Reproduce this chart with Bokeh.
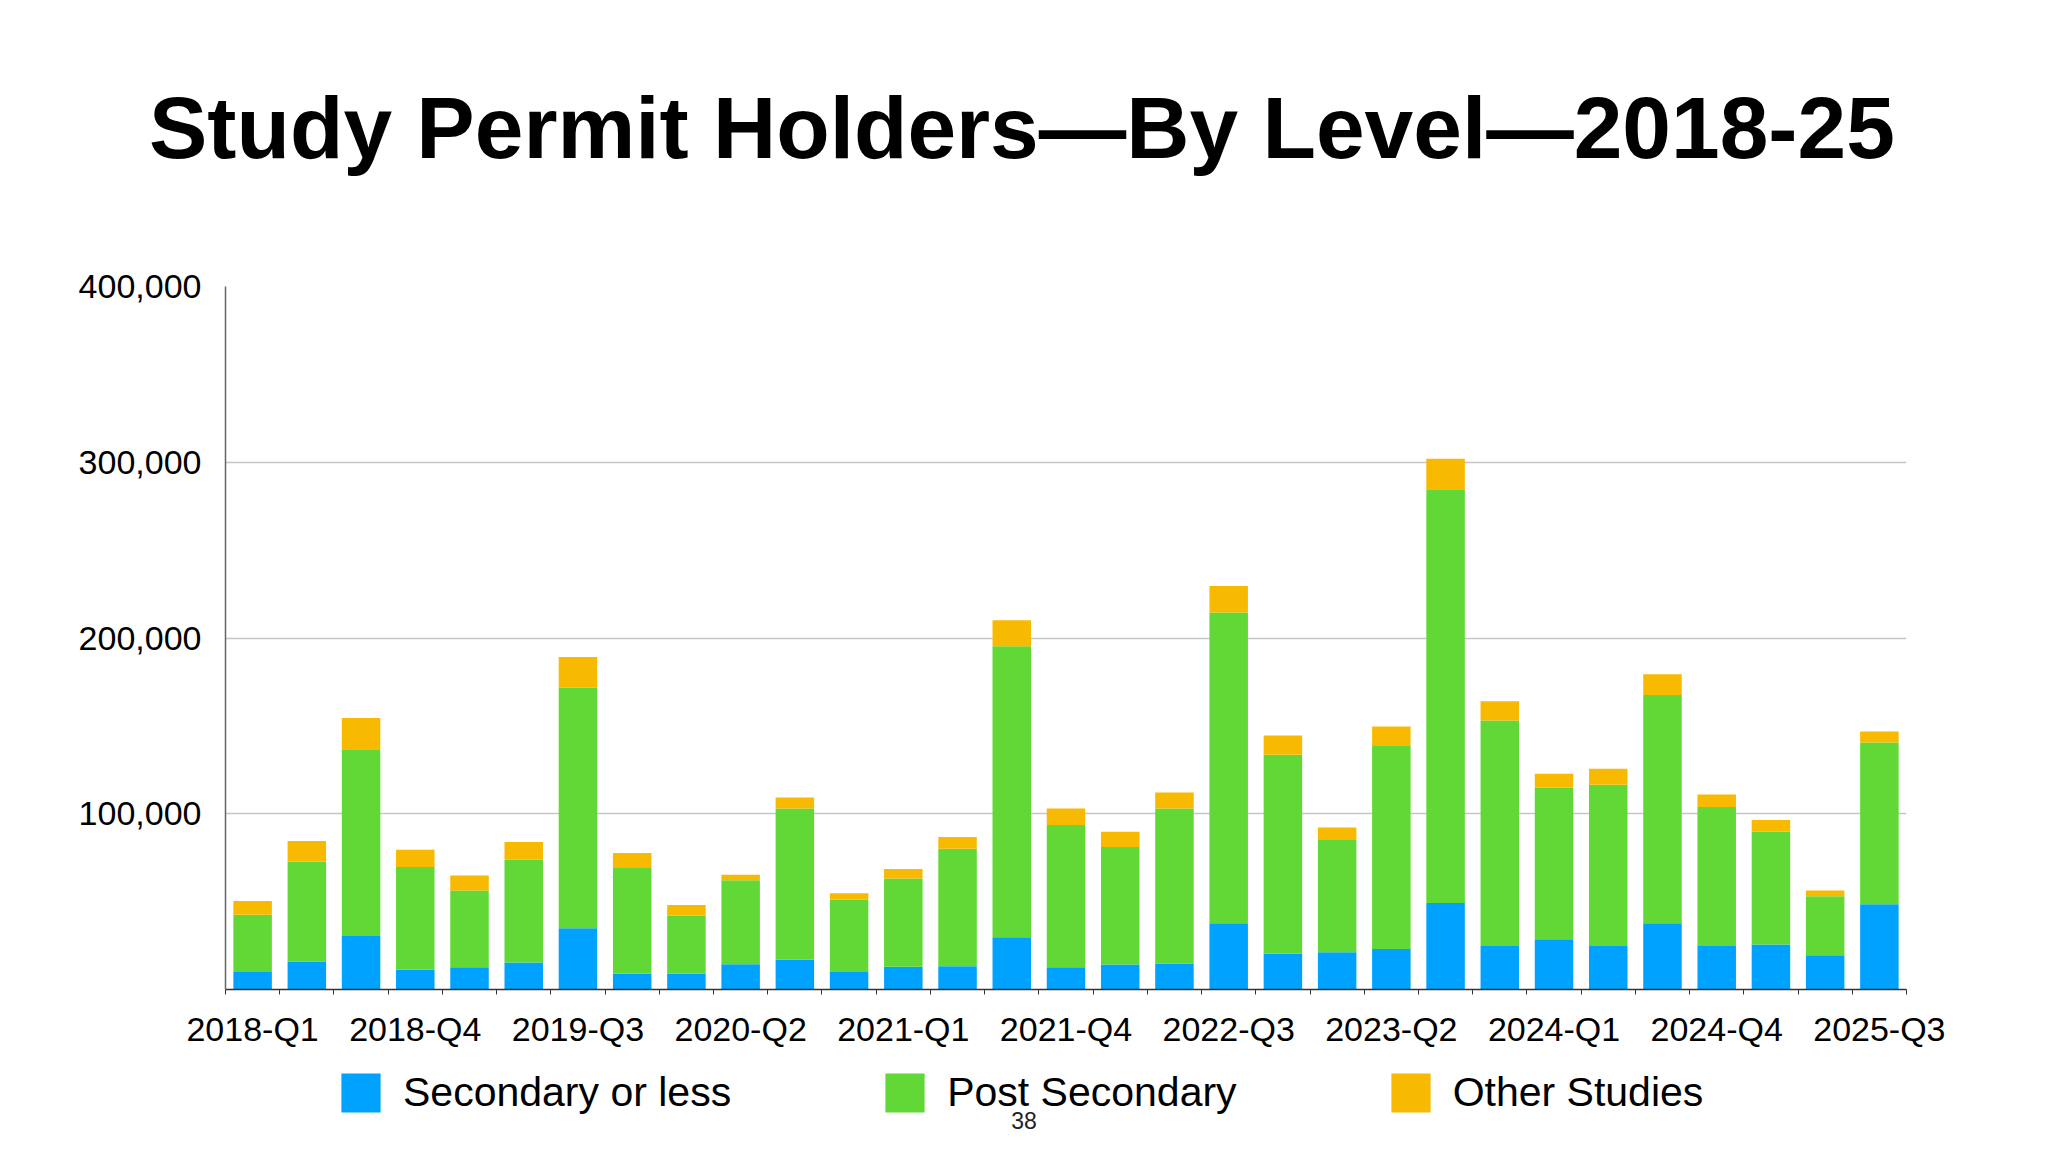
from bokeh.plotting import figure
from bokeh.layouts import column
from bokeh.models import (ColumnDataSource, Range1d, FixedTicker, NumeralTickFormatter,
                          Legend, Label, Div)
from bokeh.embed import file_html
from bokeh.resources import INLINE

quarters = ["2018-Q1", "2018-Q2", "2018-Q3", "2018-Q4",
            "2019-Q1", "2019-Q2", "2019-Q3", "2019-Q4",
            "2020-Q1", "2020-Q2", "2020-Q3", "2020-Q4",
            "2021-Q1", "2021-Q2", "2021-Q3", "2021-Q4",
            "2022-Q1", "2022-Q2", "2022-Q3", "2022-Q4",
            "2023-Q1", "2023-Q2", "2023-Q3", "2023-Q4",
            "2024-Q1", "2024-Q2", "2024-Q3", "2024-Q4",
            "2025-Q1", "2025-Q2", "2025-Q3"]

secondary = [10000, 15900, 30500, 11200, 12700, 15300, 34800, 9100, 9100, 14400, 16900,
             10000, 12900, 13300, 29700, 12700, 14200, 14800, 37700, 20300, 21200,
             23100, 49200, 24800, 28600, 24800, 37700, 24800, 25600, 19500, 48500]
post_secondary = [32600, 56800, 106200, 58500, 43700, 58600, 137000, 60000, 32800, 47700, 86100,
                  41100, 50200, 66800, 165600, 80900, 66900, 88200, 176800, 113200, 63800,
                  115500, 235400, 128200, 86200, 91700, 129900, 79000, 64200, 33500, 92000]
other = [7800, 11800, 17800, 9800, 8400, 10000, 17400, 8600, 6200, 3200, 6300,
         3600, 5500, 6600, 14800, 9400, 8700, 9100, 15100, 11000, 7200,
         11000, 17400, 11000, 7900, 9100, 11800, 7200, 6600, 3400, 6300]

series = ["Secondary or less", "Post Secondary", "Other Studies"]
colors = ["#00A2FF", "#61D836", "#F8BA00"]
title_text = "Study Permit Holders\u2014By Level\u20142018-25"
page_number = "38"

W = 2048
LEFT, RIGHT = 225, 142

# heading
head = Div(text='<div style="padding-left:149px; padding-top:84px; white-space:nowrap; '
                'font-family:\'Liberation Sans\'; font-weight:bold; font-size:87.5px; '
                'line-height:88px; color:black;">' + title_text + '</div>',
           width=W, height=200, margin=0)

# chart
pos = [i + 0.5 for i in range(len(quarters))]
source = ColumnDataSource(dict(x=pos, sec=secondary, post=post_secondary, oth=other))

p = figure(width=W, height=860, output_backend="svg", toolbar_location=None, title=None,
           x_range=Range1d(0, len(quarters)), y_range=Range1d(0, 400000),
           min_border_left=LEFT, min_border_right=RIGHT, min_border_top=86,
           min_border_bottom=71)

rs = p.vbar_stack(["sec", "post", "oth"], x="x", width=0.71, color=colors,
                  line_color=None, source=source)

p.outline_line_color = None
p.xgrid.grid_line_color = None
p.ygrid.grid_line_color = "#c6c6c6"
p.ygrid.grid_line_width = 1.5

p.yaxis.ticker = FixedTicker(ticks=[100000, 200000, 300000, 400000])
p.yaxis.formatter = NumeralTickFormatter(format="0,0")
p.yaxis.major_tick_line_color = None
p.yaxis.minor_tick_line_color = None
p.yaxis.axis_line_color = "#666666"
p.yaxis.axis_line_width = 1.5
p.yaxis.major_label_text_font = "Liberation Sans"
p.yaxis.major_label_text_font_size = "34px"
p.yaxis.major_label_text_color = "black"
p.yaxis.major_label_standoff = 18

p.xaxis.ticker = FixedTicker(ticks=[pos[i] for i in range(0, len(quarters), 3)],
                             minor_ticks=list(range(len(quarters) + 1)))
p.xaxis.major_label_overrides = {pos[i]: quarters[i] for i in range(0, len(quarters), 3)}
p.xaxis.major_tick_line_color = None
p.xaxis.minor_tick_line_color = "#333333"
p.xaxis.minor_tick_in = 0
p.xaxis.minor_tick_out = 5
p.xaxis.axis_line_color = "#333333"
p.xaxis.axis_line_width = 1.5
p.xaxis.major_label_text_font = "Liberation Sans"
p.xaxis.major_label_text_font_size = "34px"
p.xaxis.major_label_text_color = "black"
p.xaxis.major_label_standoff = 14

# legend row: same frame as the chart, x measured in page pixels
foot = figure(width=W, height=80, x_range=Range1d(LEFT, W - RIGHT), y_range=Range1d(0, 80),
              x_axis_type=None, y_axis_type=None, title=None, output_backend="svg",
              toolbar_location=None, min_border_left=LEFT, min_border_right=RIGHT,
              min_border_top=0, min_border_bottom=0)
foot.outline_line_color = None
foot.grid.visible = False
swatches = foot.vbar_stack(["sec", "post", "oth"], x="x", width=0.71, color=colors,
                           line_color=None, source=source)
for r in swatches:
    r.visible = False
legend = Legend(items=[(series[i], [swatches[i]]) for i in range(3)],
                orientation="horizontal", location=(336 - LEFT, 23),
                glyph_width=49, glyph_height=49, label_standoff=18, spacing=149,
                padding=0, margin=0, border_line_color=None, background_fill_alpha=0,
                label_text_font="Liberation Sans", label_text_font_size="41px",
                label_text_color="black")
foot.add_layout(legend)
foot.add_layout(Label(x=1023.5, y=20, text=page_number, text_font="Liberation Sans",
                      text_font_size="23px", text_color="#222222",
                      text_align="center", text_baseline="middle"))

page = column(head, p, foot, spacing=0)
open("out.html", "w").write(file_html(page, INLINE))
